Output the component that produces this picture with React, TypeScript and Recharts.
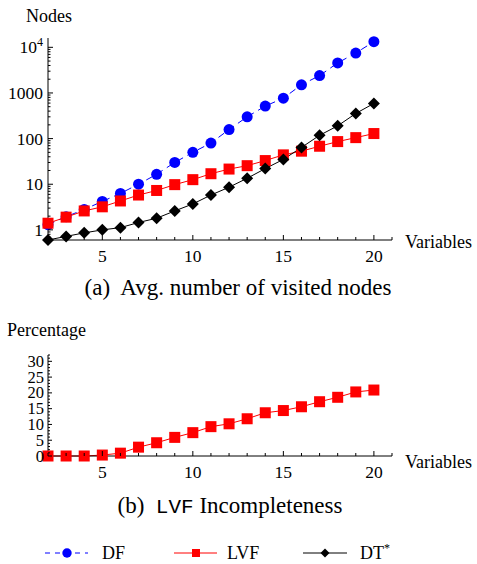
import { LineChart, Line, XAxis, YAxis } from "recharts";

const VARIABLES = [2, 3, 4, 5, 6, 7, 8, 9, 10, 11, 12, 13, 14, 15, 16, 17, 18, 19, 20];
const DF_NODES = [1.3, 1.95, 2.8, 4.2, 6.3, 10, 16.5, 30, 50, 80, 158, 300, 515, 770, 1510, 2400, 4550, 7500, 13300];
const LVF_NODES = [1.4, 1.9, 2.6, 3.2, 4.3, 5.8, 7.3, 9.8, 12.6, 17, 21.5, 25.5, 33, 44, 53, 68, 86, 105, 129];
const DT_NODES = [0.6, 0.72, 0.86, 1.0, 1.12, 1.45, 1.8, 2.6, 3.7, 5.8, 8.6, 13.5, 22, 35, 64, 118, 190, 355, 590];
const LVF_INCOMPLETE = [0, 0, 0, 0.3, 0.9, 2.8, 4.2, 5.9, 7.4, 9.3, 10.2, 11.8, 13.7, 14.4, 15.6, 17.2, 18.6, 20.3, 20.9];

const X_TICKS = [2, 3, 4, 5, 6, 7, 8, 9, 10, 11, 12, 13, 14, 15, 16, 17, 18, 19, 20, 21];
const LOG_TICKS = [
  0.7, 0.8, 0.9, 1, 2, 3, 4, 5, 6, 7, 8, 9, 10, 20, 30, 40, 50, 60, 70, 80, 90,
  100, 200, 300, 400, 500, 600, 700, 800, 900, 1000, 2000, 3000, 4000, 5000,
  6000, 7000, 8000, 9000, 10000,
];
const PCT_TICKS = Array.from({ length: 33 }, (_, i) => i);

const nodesData = VARIABLES.map((v, i) => ({
  x: v,
  df: DF_NODES[i],
  lvf: LVF_NODES[i],
  dt: DT_NODES[i],
}));
const pctData = VARIABLES.map((v, i) => ({ x: v, lvf: LVF_INCOMPLETE[i] }));

const SERIF = '"Liberation Serif", "Times New Roman", Times, "DejaVu Serif", serif';
const MONO = '"Liberation Mono", "Courier New", "DejaVu Sans Mono", monospace';
const serif = (size: number) => ({ fontFamily: SERIF, fontSize: size });

const XTick = (props: any) => {
  const { x, y, payload } = props;
  const major = payload.value % 5 === 0;
  return (
    <g>
      <line x1={x} y1={y} x2={x} y2={y - (major ? 5 : 3)} stroke="#000" strokeWidth={1} />
      {major && (
        <text x={x} y={y + 21.5} textAnchor="middle" style={serif(17.5)} fill="#000">
          {payload.value}
        </text>
      )}
    </g>
  );
};

const LogTick = (props: any) => {
  const { x, y, payload } = props;
  const lg = Math.log10(payload.value);
  const major = Math.abs(lg - Math.round(lg)) < 1e-6;
  return (
    <g>
      <line x1={x} y1={y} x2={x + (major ? 5 : 2.5)} y2={y} stroke="#000" strokeWidth={1} />
      {major && (
        <text x={x - 5} y={y + 6} textAnchor="end" style={serif(17.5)} fill="#000">
          {payload.value === 10000 ? (
            <>
              10<tspan dy={-7} style={{ fontSize: 12 }}>4</tspan>
            </>
          ) : (
            payload.value
          )}
        </text>
      )}
    </g>
  );
};

const PctTick = (props: any) => {
  const { x, y, payload } = props;
  const major = payload.value % 5 === 0;
  return (
    <g>
      <line x1={x} y1={y} x2={x + (major ? 4 : 2)} y2={y} stroke="#000" strokeWidth={1} />
      {major && payload.value <= 30 && (
        <text x={x - 4} y={y + 5.5} textAnchor="end" style={serif(16.5)} fill="#000">
          {payload.value}
        </text>
      )}
    </g>
  );
};

const Square = (props: any) => {
  const { cx, cy, index } = props;
  return <rect key={`sq-${index}`} x={cx - 5.5} y={cy - 5.5} width={11} height={11} fill="#ff0000" />;
};

const Diamond = (props: any) => {
  const { cx, cy, index } = props;
  const s = 6;
  return (
    <polygon
      key={`dm-${index}`}
      points={`${cx},${cy - s} ${cx + s},${cy} ${cx},${cy + s} ${cx - s},${cy}`}
      fill="#000"
    />
  );
};

const Legend = () => (
  <svg width={477} height={30} style={{ position: "absolute", left: 0, top: 538 }}>
    <g transform="translate(0,15)">
      <line x1={45} x2={88} y1={0} y2={0} stroke="#0000ff" strokeDasharray="5 5" />
      <circle cx={67} cy={0} r={4.7} fill="#0000ff" />
      <text x={102} y={6} style={serif(18)}>DF</text>
      <line x1={174} x2={217} y1={0} y2={0} stroke="#ff0000" />
      <rect x={192} y={-4} width={8} height={8} fill="#ff0000" />
      <text x={227} y={6} style={serif(18)}>LVF</text>
      <line x1={303} x2={347} y1={0} y2={0} stroke="#000" />
      <polygon points="325,-4.5 329.5,0 325,4.5 320.5,0" fill="#000" />
      <text x={360} y={6} style={serif(18)}>
        DT<tspan dy={-7} style={{ fontSize: 12 }}>*</tspan>
      </text>
    </g>
  </svg>
);

export default function App() {
  return (
    <div style={{ position: "absolute", left: 0, top: 0, width: 477, height: 564, background: "#fff", fontFamily: SERIF }}>
      <div style={{ position: "absolute", left: 0, top: 0 }}>
        <LineChart width={477} height={280} data={nodesData} margin={{ top: 38, right: 85, bottom: 0, left: 0 }}>
          <XAxis
            dataKey="x"
            type="number"
            domain={[2, 21]}
            ticks={X_TICKS}
            interval={0}
            height={40}
            tickSize={0}
            tickMargin={0}
            tickLine={false}
            tick={<XTick />}
            axisLine={{ stroke: "#000" }}
          />
          <YAxis
            type="number"
            scale="log"
            domain={[0.6, 16000]}
            ticks={LOG_TICKS}
            interval={0}
            width={48}
            tickSize={0}
            tickMargin={0}
            tickLine={false}
            tick={<LogTick />}
            axisLine={{ stroke: "#000" }}
          />
          <Line
            dataKey="df"
            stroke="#0000ff"
            strokeWidth={1}
            strokeDasharray="7 5"
            dot={{ r: 5.5, fill: "#0000ff", stroke: "none" }}
            isAnimationActive={false}
          />
          <Line dataKey="lvf" stroke="#ff0000" strokeWidth={1} dot={<Square />} isAnimationActive={false} />
          <Line dataKey="dt" stroke="#000" strokeWidth={1} dot={<Diamond />} isAnimationActive={false} />
        </LineChart>
      </div>
      <div style={{ position: "absolute", left: 0, top: 300 }}>
        <LineChart width={477} height={196} data={pctData} margin={{ top: 55, right: 85, bottom: 1, left: 0 }}>
          <XAxis
            dataKey="x"
            type="number"
            domain={[2, 21]}
            ticks={X_TICKS}
            interval={0}
            height={39}
            tickSize={0}
            tickMargin={0}
            tickLine={false}
            tick={<XTick />}
            axisLine={{ stroke: "#000" }}
          />
          <YAxis
            type="number"
            domain={[0, 32]}
            ticks={PCT_TICKS}
            interval={0}
            width={48}
            tickSize={0}
            tickMargin={0}
            tickLine={false}
            tick={<PctTick />}
            axisLine={{ stroke: "#000" }}
          />
          <Line dataKey="lvf" stroke="#ff0000" strokeWidth={1} dot={<Square />} isAnimationActive={false} />
        </LineChart>
      </div>
      <svg width={477} height={564} style={{ position: "absolute", left: 0, top: 0, pointerEvents: "none" }}>
        <text x={26} y={22} style={serif(18)}>Nodes</text>
        <text x={405} y={248} style={serif(18)}>Variables</text>
        <text x={238} y={295} textAnchor="middle" style={{ ...serif(23), whiteSpace: "pre" }}>
          {"(a)  Avg. number of visited nodes"}
        </text>
        <text x={7} y={336} style={serif(18)}>Percentage</text>
        <text x={405} y={468} style={serif(18)}>Variables</text>
        <text x={230} y={513} textAnchor="middle" style={{ ...serif(23), whiteSpace: "pre" }}>
          {"(b)  "}
          <tspan style={{ fontFamily: MONO, fontSize: 21 }}>LVF</tspan>
          {" Incompleteness"}
        </text>
      </svg>
      <Legend />
    </div>
  );
}
